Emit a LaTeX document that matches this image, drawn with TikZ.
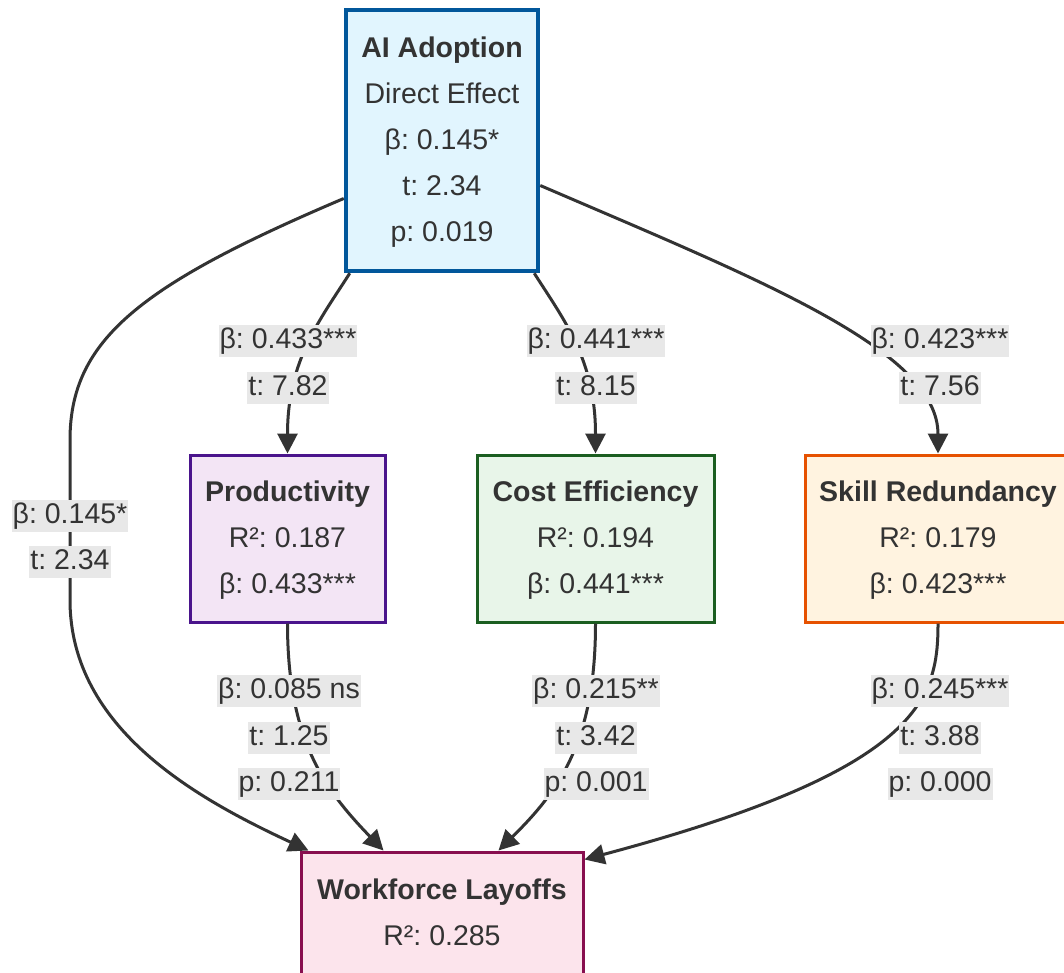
\documentclass[tikz,border=0pt]{standalone}
\usepackage{fontspec}
\setmainfont{Liberation Sans}
\usetikzlibrary{arrows.meta}
\definecolor{txt}{HTML}{333333}
\definecolor{lblbg}{HTML}{E8E8E8}
\definecolor{aifill}{HTML}{E1F5FE}\definecolor{aidraw}{HTML}{01579B}
\definecolor{prfill}{HTML}{F3E5F5}\definecolor{prdraw}{HTML}{4A148C}
\definecolor{cofill}{HTML}{E8F5E9}\definecolor{codraw}{HTML}{1B5E20}
\definecolor{skfill}{HTML}{FFF3E0}\definecolor{skdraw}{HTML}{E65100}
\definecolor{layfill}{HTML}{FCE4EC}\definecolor{laydraw}{HTML}{880E4F}
\begin{document}
\frenchspacing
\begin{tikzpicture}[x=1pt,y=-1pt,
  box/.style={draw, line width=3pt, align=center, text=txt, inner sep=0pt,
    font=\fontsize{28.5}{46}\selectfont\frenchspacing},
  lbl/.style={fill=lblbg, text=txt, inner xsep=1pt, inner ysep=2pt,
    text height=21pt, text depth=7pt, font=\fontsize{28.5}{34}\selectfont\frenchspacing},
  arr/.style={draw=txt, line width=3pt, -{Triangle[length=20pt,width=20pt]}}]
\fill[white] (0,0) rectangle (1064,973);
\useasboundingbox (0,0) rectangle (1064,973);

% nodes
\node[box, fill=aifill, draw=aidraw, line width=4.5pt, minimum width=192pt, minimum height=261pt]
  (ai) at (442,140.5) {\textbf{AI Adoption}\strut\\Direct Effect\strut\\β: 0.145*\strut\\t: 2.34\strut\\p: 0.019\strut};
\node[box, fill=prfill, draw=prdraw, minimum width=195pt, minimum height=167pt]
  (prod) at (287.5,538.5) {\textbf{Productivity}\strut\\R²: 0.187\strut\\β: 0.433***\strut};
\node[box, fill=cofill, draw=codraw, minimum width=237pt, minimum height=167pt]
  (cost) at (595.5,538.5) {\textbf{Cost Efficiency}\strut\\R²: 0.194\strut\\β: 0.441***\strut};
\node[box, fill=skfill, draw=skdraw, minimum width=266pt, minimum height=167pt]
  (skill) at (938,538.5) {\textbf{Skill Redundancy}\strut\\R²: 0.179\strut\\β: 0.423***\strut};
\node[box, fill=layfill, draw=laydraw, minimum width=282pt, minimum height=123pt]
  (lay) at (442,913.5) {\textbf{Workforce Layoffs}\strut\\R²: 0.285\strut};

% edges
\draw[arr] ([xshift=6pt]ai.south west) .. controls (320,320) and (287.5,360) .. (prod.north);
\draw[arr] ([xshift=-6pt]ai.south east) .. controls (564,320) and (595.5,360) .. (cost.north);
\draw[arr] ([yshift=-45pt]ai.east) .. controls (760,280) and (938,350) .. (skill.north);
\draw[arr] ([yshift=-58pt]ai.west) .. controls (140,285) and (70,340) .. (70,440) -- (70,600)
  .. controls (70,730) and (200,800) .. ([xshift=9pt]lay.north west);
\draw[arr] (prod.south) .. controls (287.5,740) and (325,790) .. ([xshift=84pt]lay.north west);
\draw[arr] (cost.south) .. controls (595.5,740) and (560,790) .. ([xshift=199pt]lay.north west);
\draw[arr] (skill.south) .. controls (938,700) and (920,770) .. ([yshift=-9pt]lay.north east);

% labels
\node[lbl] (la1) at (288,341) {β: 0.433***};
\node[lbl] (la2) at (288,388) {t: 7.82};
\node[lbl] (lb1) at (596,341) {β: 0.441***};
\node[lbl] (lb2) at (596,388) {t: 8.15};
\node[lbl] (lc1) at (940,341) {β: 0.423***};
\node[lbl] (lc2) at (940,388) {t: 7.56};
\node[lbl] (ld1) at (70,516) {β: 0.145*};
\node[lbl] (ld2) at (70,562) {t: 2.34};
\node[lbl] (le1) at (289,691) {β: 0.085 ns};
\node[lbl] (le2) at (289,738) {t: 1.25};
\node[lbl] (le3) at (289,784) {p: 0.211};
\node[lbl] (lf1) at (596,691) {β: 0.215**};
\node[lbl] (lf2) at (596,738) {t: 3.42};
\node[lbl] (lf3) at (596,784) {p: 0.001};
\node[lbl] (lg1) at (940,691) {β: 0.245***};
\node[lbl] (lg2) at (940,738) {t: 3.88};
\node[lbl] (lg3) at (940,784) {p: 0.000};
\end{tikzpicture}
\end{document}
